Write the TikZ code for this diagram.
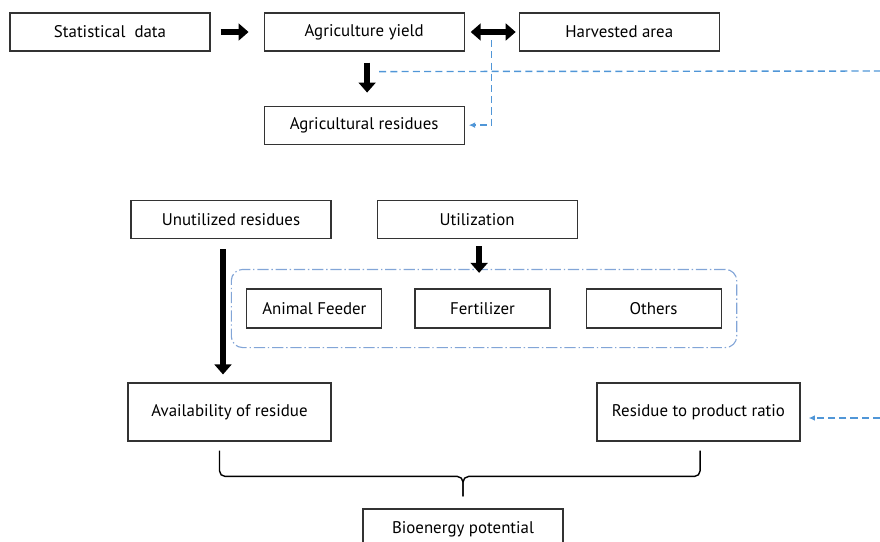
\documentclass[tikz,border=0pt]{standalone}
\usepackage{fontspec}
\setmainfont{PT Sans}
\usepackage{xcolor}
\usetikzlibrary{arrows.meta, positioning, fit, calc}

\definecolor{linkblue}{RGB}{80,150,215}
\definecolor{groupblue}{RGB}{130,165,215}

\begin{document}
\begin{tikzpicture}[
        node distance=1.3cm and 1.3cm,
        font=\fontsize{12}{14}\selectfont,
        block/.style={rectangle, draw=black!80, line width=0.8pt, text centered, minimum width=5cm, minimum height=0.95cm},
        smallblock/.style={block, minimum width=3.375cm, minimum height=0.975cm},
        bigblock/.style={block, minimum width=5.075cm, minimum height=1.45cm},
        fat/.style={draw, line width=4.2pt, -{Triangle[length=0.25cm, width=0.42cm]}},
        fatboth/.style={fat, {Triangle[length=0.25cm, width=0.42cm]}-{Triangle[length=0.25cm, width=0.42cm]}},
        dashblue/.style={draw=linkblue, line width=1pt, dash pattern=on 5pt off 3pt},
        tipblue/.style={-{Latex[length=4.5pt, width=4pt]}},
        group/.style={draw=groupblue, line width=0.8pt, rounded corners=8pt, dash pattern=on 8pt off 2pt on 1pt off 2pt, inner xsep=0.375cm, inner ysep=0.475cm}
    ]
    \clip (0,0) rectangle (22,-13.525);

    % Top row
    \node [block] (stat) at (2.75,-0.8) {Statistical\ \ data};
    \node [block, right=1.325cm of stat] (yield) {Agriculture yield};
    \node [block, right=1.35cm of yield] (harvest) {Harvested area};
    \node [block, below=1.35cm of yield] (residues) {Agricultural residues};

    \path [fat] ([xshift=0.25cm]stat.east) -- ([xshift=-0.375cm]yield.west);
    \path [fatboth] ([xshift=0.15cm]yield.east) -- ([xshift=-0.075cm]harvest.west);
    \path [fat] ([shift={(0.075,-0.275)}]yield.south) -- ([shift={(0.075,0.325)}]residues.north);

    % Dashed links
    \coordinate (split) at ($(yield.east)!0.5!(harvest.west)$);
    \coordinate (farR) at (22,-1.775);
    \coordinate (farR2) at (22,-10.45);
    \path [dashblue] ([shift={(0.375,-0.5)}]yield.south) -- (farR);
    \path [dashblue, tipblue] ([yshift=-0.2cm]split) |- ([xshift=0.1cm]residues.east);

    % Middle part
    \node [block] (unused) at (5.775,-5.4875) {Unutilized residues};
    \node [block, right=1.125cm of unused] (utiliz) {Utilization};
    \node [smallblock] (fert) at (12.0625,-7.7125) {Fertilizer};
    \node [smallblock, left=0.8cm of fert] (feed) {Animal Feeder};
    \node [smallblock, right=0.875cm of fert] (others) {Others};
    \node [group, fit=(feed)(others)] (uses) {};

    \coordinate (ut) at (utiliz.south |- uses.north);
    \path [fat] ([shift={(0.05,-0.175)}]utiliz.south) -- ([shift={(0.05,-0.1)}]ut);

    % Bottom part
    \node [bigblock] (avail) at (5.7375,-10.3) {Availability of residue};
    \node [bigblock] (ratio) at (17.4625,-10.3) {Residue to product ratio};
    \node [block, minimum height=1cm] (bioenergy) at (11.575,-13.225) {Bioenergy potential};

    \path [fat] ([shift={(-0.2,-0.25)}]unused.south) -- ([shift={(-0.1625,0.2)}]avail.north);
    \path [dashblue, tipblue, shorten >=0.2cm] (farR2) -- (farR2 -| ratio.east);

    % Brace
    \coordinate (tip) at ([yshift=0.3cm]bioenergy.north);
    \coordinate (mid) at ([yshift=0.5cm]tip);
    \draw [line width=1pt, rounded corners=4pt] ([shift={(-0.25,-0.225)}]avail.south) |- (mid) -- (tip);
    \draw [line width=1pt, rounded corners=4pt] ([shift={(0.04,-0.225)}]ratio.south) |- (mid) -- (tip);
\end{tikzpicture}
\end{document}
